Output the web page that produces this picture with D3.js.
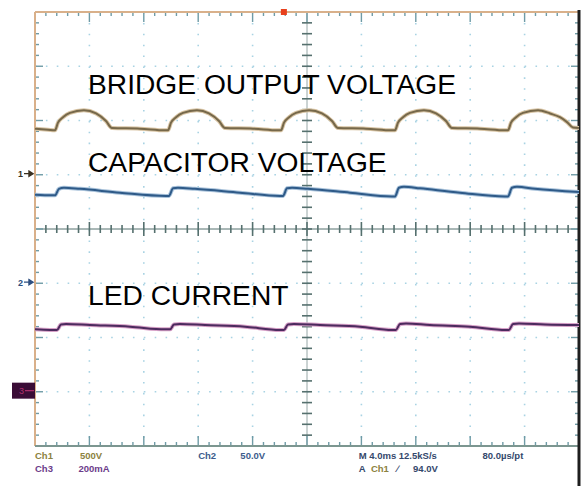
<!DOCTYPE html>
<html>
<head>
<meta charset="utf-8">
<script src="https://cdn.jsdelivr.net/npm/d3@7"></script>
<style>
  html, body { margin: 0; padding: 0; background: #fff; }
  svg { display: block; font-family: "Liberation Sans", Arial, Helvetica, sans-serif; }
</style>
</head>
<body>
<svg id="scope" width="587" height="486"></svg>
<script>
// time in ms (4 ms/div, 10 div), level in divisions (8 div)
const bridgeT = [0, 0.96, 1.47, 1.69, 2.06, 2.57, 3.6, 4.49, 5.22, 5.66, 7.72, 9.56,
  9.78, 10.0, 10.37, 10.88, 11.91, 12.79, 13.53, 13.97, 16.03, 17.87,
  18.09, 18.31, 18.68, 19.19, 20.15, 21.1, 21.84, 22.28, 24.34, 26.25,
  26.47, 26.69, 27.06, 27.57, 28.6, 29.49, 30.22, 30.66, 32.72, 34.56,
  34.78, 35.0, 35.37, 35.88, 36.99, 37.87, 38.6, 39.12, 39.56, 40];
const bridgeV = [1.85, 1.83, 1.82, 1.96, 2.06, 2.14, 2.19, 2.13, 1.99, 1.86, 1.85, 1.82,
  1.82, 1.96, 2.06, 2.14, 2.19, 2.13, 1.99, 1.86, 1.85, 1.82,
  1.82, 1.96, 2.06, 2.14, 2.19, 2.13, 1.99, 1.86, 1.85, 1.82,
  1.82, 1.96, 2.06, 2.14, 2.19, 2.13, 1.99, 1.86, 1.85, 1.82,
  1.82, 1.96, 2.06, 2.14, 2.19, 2.13, 2.06, 1.97, 1.87, 1.86];

const capT = [0, 1.25, 1.47, 1.76, 2.13, 3.31, 6.25, 9.63,
  9.85, 10.15, 10.51, 11.76, 15.07, 18.01,
  18.24, 18.53, 18.9, 20.07, 23.16, 26.25,
  26.47, 26.76, 27.13, 28.31, 31.25, 34.56,
  34.78, 35.07, 35.44, 36.76, 40];
const capV = [0.63, 0.62, 0.62, 0.74, 0.76, 0.74, 0.67, 0.61,
  0.61, 0.75, 0.76, 0.74, 0.67, 0.61,
  0.61, 0.75, 0.76, 0.74, 0.67, 0.6,
  0.6, 0.76, 0.78, 0.75, 0.67, 0.6,
  0.6, 0.76, 0.78, 0.74, 0.68];

const ledT = [0, 1.1, 1.62, 1.91, 2.28, 4.04, 6.99, 9.56,
  9.93, 10.22, 10.66, 12.5, 15.44, 18.01,
  18.31, 18.6, 19.04, 20.96, 23.9, 26.25,
  26.54, 26.84, 27.28, 29.04, 31.99, 34.63,
  34.85, 35.15, 35.59, 37.5, 40];
const ledV = [-1.85, -1.86, -1.86, -1.76, -1.75, -1.77, -1.8, -1.85,
  -1.85, -1.76, -1.75, -1.77, -1.8, -1.86,
  -1.86, -1.76, -1.75, -1.77, -1.8, -1.86,
  -1.86, -1.75, -1.74, -1.77, -1.8, -1.86,
  -1.86, -1.75, -1.74, -1.76, -1.77];

const traceLabels = ["BRIDGE OUTPUT VOLTAGE", "CAPACITOR VOLTAGE", "LED CURRENT"];
const labelLevels = [2.49, 1.05, -1.4];
const channelMarks = ["1", "2", "3"];
const channelLevels = [1.02, -0.98, -2.98];
const infoLine1 = [["Ch1", 0], ["500V", 3.3], ["Ch2", 12], ["50.0V", 15.1], ["M 4.0ms 12.5kS/s", 23.8], ["80.0\u00b5s/pt", 32.9]];
const infoLine2 = [["Ch3", 0], ["200mA", 3.2], ["A", 23.8], ["Ch1", 24.7], ["\u2215", 26.6], ["94.0V", 27.8]];

const svg = d3.select("#scope");
const plotL = 35, plotR = 579, plotT = 12, plotB = 446;

const x = d3.scaleLinear().domain([0, 40]).range([plotL, plotR]);
const y = d3.scaleLinear().domain([-4, 4]).range([plotB, plotT]);

const majorX = d3.range(0, 40.001, 4);
const minorX = d3.range(0, 40.001, 0.8);
const majorY = d3.range(-4, 4.001, 1);
const minorY = d3.range(-4, 4.001, 0.2);
const isMajor = (d, step) => Math.abs(d / step - Math.round(d / step)) < 1e-6;

// dotted graticule
const grid = svg.append("g").attr("stroke", "#a9d3e3").attr("stroke-width", 1.6)
    .attr("stroke-dasharray", "1.6,9.28");
grid.selectAll("line.v").data(majorX.filter(d => d > 0 && d < 40 && d !== 20)).join("line")
    .attr("class", "v")
    .attr("x1", d => x(d)).attr("x2", d => x(d))
    .attr("y1", plotT).attr("y2", plotB);
grid.selectAll("line.h").data(majorY.filter(d => d > -4 && d < 4 && d !== 0)).join("line")
    .attr("class", "h")
    .attr("x1", plotL).attr("x2", plotR)
    .attr("y1", d => y(d)).attr("y2", d => y(d));

// centre cross with ticks
const axisCol = "#55706e";
const cross = svg.append("g").attr("stroke", axisCol).attr("stroke-width", 1);
cross.append("line").attr("x1", plotL).attr("x2", plotR).attr("y1", y(0)).attr("y2", y(0));
cross.append("line").attr("x1", x(20)).attr("x2", x(20)).attr("y1", plotT).attr("y2", plotB)
    .attr("stroke-opacity", 0.6);
cross.selectAll("line.tx").data(minorX).join("line")
    .attr("class", "tx")
    .attr("x1", d => x(d)).attr("x2", d => x(d))
    .attr("y1", d => y(0) - (isMajor(d, 4) ? 7 : 4))
    .attr("y2", d => y(0) + (isMajor(d, 4) ? 7 : 4))
    .attr("stroke-width", 1.6);
cross.selectAll("line.ty").data(minorY).join("line")
    .attr("class", "ty")
    .attr("x1", d => x(20) - 5).attr("x2", d => x(20) + 5)
    .attr("y1", d => y(d)).attr("y2", d => y(d))
    .attr("stroke-width", 1.6);

// border ticks
const ticks = svg.append("g").attr("stroke", "#6f9ba6").attr("stroke-width", 1.4);
ticks.selectAll("line.top").data(minorX).join("line")
    .attr("class", "top")
    .attr("x1", d => x(d)).attr("x2", d => x(d))
    .attr("y1", plotT).attr("y2", d => plotT + (isMajor(d, 4) ? 10 : 4));
ticks.selectAll("line.bot").data(minorX).join("line")
    .attr("class", "bot")
    .attr("x1", d => x(d)).attr("x2", d => x(d))
    .attr("y1", plotB).attr("y2", d => plotB - (isMajor(d, 4) ? 10 : 4));
ticks.selectAll("line.lft").data(minorY).join("line")
    .attr("class", "lft")
    .attr("x1", plotL).attr("x2", d => plotL + (isMajor(d, 1) ? 8 : 4))
    .attr("y1", d => y(d)).attr("y2", d => y(d));
ticks.selectAll("line.rgt").data(minorY).join("line")
    .attr("class", "rgt")
    .attr("x1", plotR).attr("x2", d => plotR - (isMajor(d, 1) ? 8 : 4))
    .attr("y1", d => y(d)).attr("y2", d => y(d));

// frame
svg.append("line").attr("x1", plotL).attr("x2", plotR).attr("y1", plotT).attr("y2", plotT)
    .attr("stroke", "#d9b08a").attr("stroke-width", 2);
svg.append("line").attr("x1", plotL).attr("x2", plotL).attr("y1", plotT).attr("y2", plotB)
    .attr("stroke", "#d9b08a").attr("stroke-width", 2);
svg.append("line").attr("x1", plotL).attr("x2", plotR).attr("y1", plotB).attr("y2", plotB)
    .attr("stroke", "#7c9690").attr("stroke-width", 2);
svg.append("line").attr("x1", plotR).attr("x2", plotR).attr("y1", plotT - 2).attr("y2", 486)
    .attr("stroke", "#1e1e1e").attr("stroke-width", 3);

// trigger position marker
svg.append("rect").attr("x", x(18.3) - 3).attr("y", plotT - 3).attr("width", 6).attr("height", 6)
    .attr("fill", "#e8401c");

// traces
const line = d3.line().x(d => x(d[0])).y(d => y(d[1])).curve(d3.curveMonotoneX);
const traces = [
    [d3.zip(bridgeT, bridgeV), "#d8c4a4", "#76684a"],
    [d3.zip(capT, capV), "#a9c2da", "#2e5a88"],
    [d3.zip(ledT, ledV), "#d7a2c8", "#4c2a5e"]
];
traces.forEach(([pts, glow, core]) => {
    svg.append("path").attr("d", line(pts)).attr("fill", "none")
        .attr("stroke", glow).attr("stroke-width", 4).attr("stroke-linejoin", "round");
    svg.append("path").attr("d", line(pts)).attr("fill", "none")
        .attr("stroke", core).attr("stroke-width", 2).attr("stroke-linejoin", "round");
});

// overlay labels
svg.selectAll("text.lbl").data(traceLabels).join("text")
    .attr("class", "lbl")
    .attr("x", 88)
    .attr("y", (d, i) => y(labelLevels[i]))
    .attr("font-size", 28.2)
    .attr("fill", "#000")
    .text(d => d);

// channel ground markers
const markCols = ["#3a3020", "#2e4f80", "#5a2a66"];
channelMarks.forEach((m, i) => {
    const yy = y(channelLevels[i]);
    if (i === 2) {
        svg.append("rect").attr("x", 12).attr("y", yy - 8).attr("width", 23).attr("height", 16)
            .attr("fill", "#3a0c36");
        svg.append("text").attr("x", 19).attr("y", yy + 3.5).attr("font-size", 9)
            .attr("fill", "#b0306e").text(m);
        svg.append("line").attr("x1", 25).attr("x2", 34).attr("y1", yy).attr("y2", yy)
            .attr("stroke", "#b0306e").attr("stroke-width", 1.2);
    } else {
        svg.append("text").attr("x", 18).attr("y", yy + 3.5).attr("font-size", 9)
            .attr("font-weight", "bold").attr("fill", markCols[i]).text(m);
        svg.append("path")
            .attr("d", `M24,${yy}L31,${yy}M29,${yy - 2.5}L33,${yy}L29,${yy + 2.5}Z`)
            .attr("stroke", markCols[i]).attr("fill", markCols[i]).attr("stroke-width", 1.4);
    }
});

// readout
const infoCols1 = ["#8c8240", "#8c8240", "#3d5c8c", "#3d5c8c", "#34486c", "#34486c"];
const infoCols2 = ["#6c3c8a", "#6c3c8a", "#34486c", "#8c8240", "#34486c", "#34486c"];
svg.selectAll("text.i1").data(infoLine1).join("text")
    .attr("class", "i1")
    .attr("x", d => x(d[1]))
    .attr("y", 459)
    .attr("font-size", 9.5)
    .attr("font-weight", "bold")
    .attr("fill", (d, i) => infoCols1[i])
    .text(d => d[0]);
svg.selectAll("text.i2").data(infoLine2).join("text")
    .attr("class", "i2")
    .attr("x", d => x(d[1]))
    .attr("y", 472)
    .attr("font-size", 9.5)
    .attr("font-weight", "bold")
    .attr("fill", (d, i) => infoCols2[i])
    .text(d => d[0]);
</script>
</body>
</html>
